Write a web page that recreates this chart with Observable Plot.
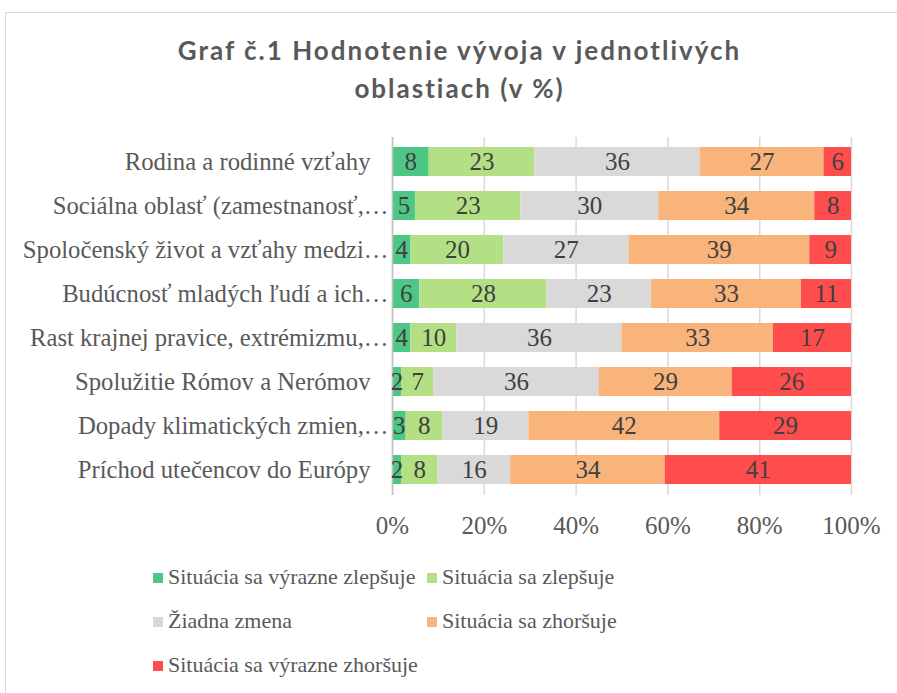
<!DOCTYPE html>
<html>
<head>
<meta charset="utf-8">
<script src="https://cdn.jsdelivr.net/npm/d3@7"></script>
<script src="https://cdn.jsdelivr.net/npm/@observablehq/plot@0.6"></script>
<style>
  body { margin: 0; background: #fff; }
  #wrap { position: relative; width: 897px; height: 693px; overflow: hidden; background: #fff; }
  #frame { position: absolute; left: 5px; top: 12px; width: 1000px; height: 1000px; border: 1px solid #d9d9d9; box-sizing: border-box; }
  #title { position: absolute; left: 11px; top: 31px; width: 897px; text-align: center; font-family: Lato, "Open Sans", sans-serif; font-weight: bold; font-size: 26px; line-height: 38px; letter-spacing: 2px; color: #595959; }
  #chart { position: absolute; left: 0; top: 130px; }
  #legend { position: absolute; left: 153px; top: 555px; font-family: "Liberation Serif", "DejaVu Serif", serif; font-size: 22px; color: #595959; }
  .item { position: absolute; white-space: nowrap; height: 44px; line-height: 44px; font-family: "Liberation Serif", "DejaVu Serif", serif; }
  .sw { display: inline-block; width: 10px; height: 10px; margin-right: 5px; vertical-align: middle; position: relative; top: -1px; }
</style>
</head>
<body>
<div id="wrap">
  <div id="frame"></div>
  <div id="title">Graf č.1 Hodnotenie vývoja v jednotlivých<br>oblastiach (v %)</div>
  <div id="chart"></div>
  <div id="legend"></div>
</div>
<script>
const categories = [
  "Rodina a rodinné vzťahy",
  "Sociálna oblasť (zamestnanosť,…",
  "Spoločenský život a vzťahy medzi…",
  "Budúcnosť mladých ľudí a ich…",
  "Rast krajnej pravice, extrémizmu,…",
  "Spolužitie Rómov a Nerómov",
  "Dopady klimatických zmien,…",
  "Príchod utečencov do Európy"
];
const seriesNames = [
  "Situácia sa výrazne zlepšuje",
  "Situácia sa zlepšuje",
  "Žiadna zmena",
  "Situácia sa zhoršuje",
  "Situácia sa výrazne zhoršuje"
];
const muchBetter = [8, 5, 4, 6, 4, 2, 3, 2];
const better     = [23, 23, 20, 28, 10, 7, 8, 8];
const noChange   = [36, 30, 27, 23, 36, 36, 19, 16];
const worse      = [27, 34, 39, 33, 33, 29, 42, 34];
const muchWorse  = [6, 8, 9, 11, 17, 26, 29, 41];
const xTicks = [0, 0.2, 0.4, 0.6, 0.8, 1];
const colors = ["#4dc785", "#b3e085", "#d9d9d9", "#f9b47c", "#ff4d4d"];

const seriesValues = [muchBetter, better, noChange, worse, muchWorse];
const data = [];
categories.forEach((cat, i) => {
  seriesNames.forEach((s, j) => {
    data.push({cat, series: s, value: seriesValues[j][i]});
  });
});

const serif = "'Liberation Serif', serif";
const stackOpts = {offset: "normalize", order: seriesNames};

const chart = Plot.plot({
  width: 897,
  height: 410,
  marginLeft: 392,
  marginRight: 46,
  marginTop: 7,
  marginBottom: 45,
  style: {fontFamily: serif, fontSize: "25px", color: "#595959", background: "transparent", overflow: "visible"},
  x: {domain: [0, 1]},
  y: {domain: categories, paddingInner: 0.34, paddingOuter: 0.18, axis: null},
  color: {domain: seriesNames, range: colors},
  marks: [
    Plot.gridX(xTicks, {stroke: "#d9d9d9", strokeOpacity: 1, strokeWidth: 1.5}),
    Plot.barX(data, Plot.stackX(stackOpts, {x: "value", y: "cat", fill: "series"})),
    Plot.ruleX([0], {stroke: "#bfbfbf", strokeWidth: 1.5}),
    Plot.text(data, Plot.stackX(stackOpts, {x: "value", y: "cat", z: "series", text: "value", fill: "#404040", fontSize: 25})),
    Plot.axisX(xTicks, {label: null, tickSize: 0, tickPadding: 21, tickFormat: d3.format(".0%"), fontSize: 25, fill: "#595959"}),
    Plot.text(categories.filter(c => !c.endsWith("…")), {x: 0, y: d => d, text: d => d, textAnchor: "end", dx: -22, fontSize: 24.7, fill: "#595959"}),
    Plot.text(categories.filter(c => c.endsWith("…")), {x: 0, y: d => d, text: d => d, textAnchor: "end", dx: -4, fontSize: 24.7, fill: "#595959"})
  ]
});
document.getElementById("chart").appendChild(chart);

const legend = document.getElementById("legend");
seriesNames.forEach((s, j) => {
  const row = Math.floor(j / 2), col = j % 2;
  const el = document.createElement("div");
  el.className = "item";
  el.style.left = (col * 274) + "px";
  el.style.top = (row * 44) + "px";
  const sw = document.createElement("span");
  sw.className = "sw";
  sw.style.background = colors[j];
  el.appendChild(sw);
  el.appendChild(document.createTextNode(s));
  legend.appendChild(el);
});
</script>
</body>
</html>
